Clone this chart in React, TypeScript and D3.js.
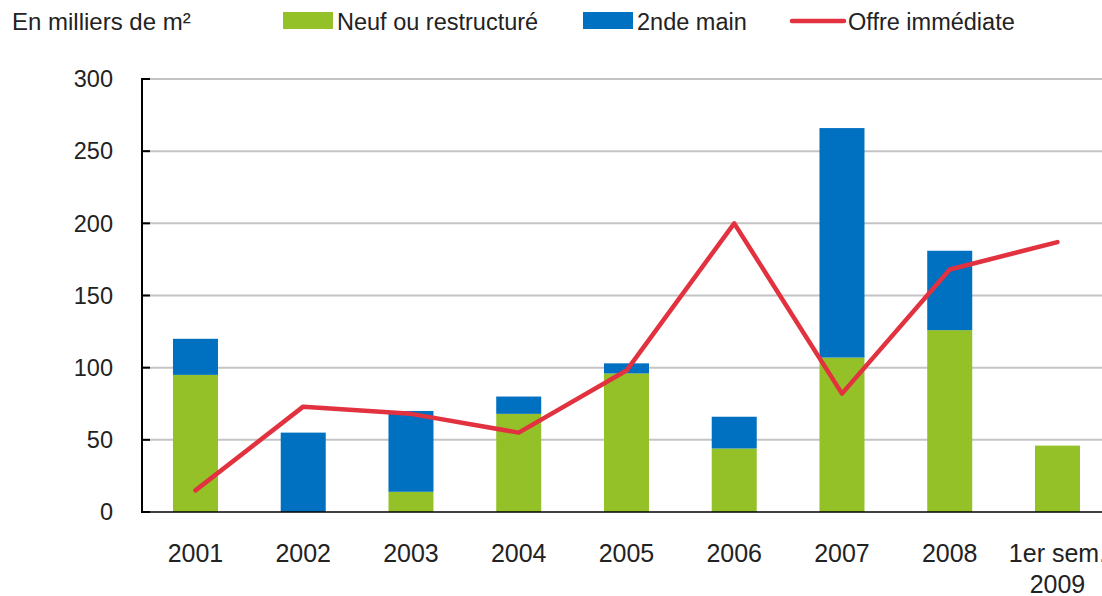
import React from "react";
import * as d3 from "d3";

const categories = ["2001", "2002", "2003", "2004", "2005", "2006", "2007", "2008", "1er sem.|2009"];
const neuf = [95, 0, 14, 68, 96, 44, 107, 126, 46];
const secondeMain = [25, 55, 56, 12, 7, 22, 159, 55, 0];
const offre = [15, 73, 68, 55, 98, 200, 82, 168, 187];
const yTicks = [0, 50, 100, 150, 200, 250, 300];

const W = 1102;
const H = 596;
const FONT = "'Liberation Sans', Arial, sans-serif";
const TXT = "#222";

export default function App() {
  const x = d3.scaleBand<string>().domain(categories).range([141.6, 141.6 + 9 * 107.75]).paddingInner(0.58).paddingOuter(0.29);
  const xc = (c: string) => (x(c) as number) + x.bandwidth() / 2;
  const y = d3.scaleLinear().domain([0, 300]).range([512, 79]);
  const line = d3
    .line<number>()
    .x((_, i) => xc(categories[i]))
    .y((d) => y(d));
  const bw = 45;

  return (
    <svg width={W} height={H} style={{ position: "absolute", left: 0, top: 0, background: "#fff" }} fontFamily={FONT}>
      {yTicks.slice(1).map((t) => (
        <line key={t} x1={142} x2={1112} y1={y(t)} y2={y(t)} stroke="#c4c4c4" strokeWidth={2} />
      ))}
      {categories.map((c, i) => (
        <g key={c}>
          <rect x={xc(c) - bw / 2} y={y(neuf[i])} width={bw} height={y(0) - y(neuf[i])} fill="#93c127" />
          {secondeMain[i] > 0 && (
            <rect
              x={xc(c) - bw / 2}
              y={y(neuf[i] + secondeMain[i])}
              width={bw}
              height={y(neuf[i]) - y(neuf[i] + secondeMain[i])}
              fill="#0070c0"
            />
          )}
        </g>
      ))}
      <line x1={142} x2={1112} y1={y(0)} y2={y(0)} stroke="#000" strokeWidth={1.5} />
      <line x1={142} x2={142} y1={y(300) - 1} y2={y(0) + 1} stroke="#000" strokeWidth={2} />
      {yTicks.map((t) => (
        <g key={t}>
          <line x1={141} x2={150} y1={y(t)} y2={y(t)} stroke="#000" strokeWidth={2} />
          <text x={113} y={y(t)} dy="0.35em" textAnchor="end" fontSize={23.5} fill={TXT}>
            {t}
          </text>
        </g>
      ))}
      <path d={line(offre) || ""} fill="none" stroke="#e2323f" strokeWidth={4.5} strokeLinejoin="round" strokeLinecap="round" />
      {categories.map((c) => {
        const parts = c.split("|");
        return (
          <text key={c} x={xc(c)} y={562} textAnchor="middle" fontSize={25} fill={TXT}>
            {parts.map((p, j) => (
              <tspan key={j} x={xc(c)} dy={j === 0 ? 0 : 31}>
                {p}
              </tspan>
            ))}
          </text>
        );
      })}
      <text x={12} y={30} fontSize={24} fill={TXT}>En milliers de m²</text>
      <rect x={283} y={12} width={50} height={17} fill="#93c127" />
      <text x={337} y={30} fontSize={23.5} fill={TXT}>Neuf ou restructuré</text>
      <rect x={583} y={12} width={50} height={17} fill="#0070c0" />
      <text x={637} y={30} fontSize={23.5} fill={TXT}>2nde main</text>
      <line x1={792} x2={844} y1={21} y2={21} stroke="#e2323f" strokeWidth={4.5} strokeLinecap="round" />
      <text x={848} y={30} fontSize={23.5} fill={TXT}>Offre immédiate</text>
    </svg>
  );
}
